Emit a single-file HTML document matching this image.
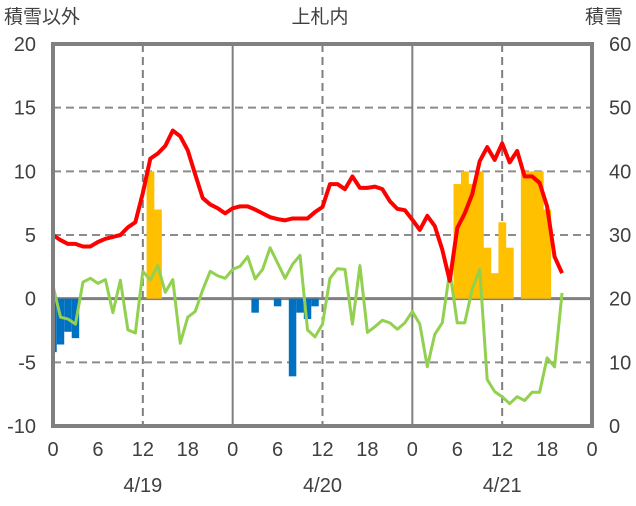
<!DOCTYPE html>
<html><head><meta charset="utf-8"><style>
body{margin:0;background:#fff;}
svg text{font-family:"Liberation Sans","Noto Sans CJK JP",sans-serif;fill:#404040;}
</style></head><body>
<svg id="chart" width="636" height="501" viewBox="0 0 636 501" xmlns="http://www.w3.org/2000/svg">
<text x="4" y="23" font-size="19">積雪以外</text>
<text x="320" y="23" font-size="19" text-anchor="middle">上札内</text>
<text x="585" y="23" font-size="19">積雪</text>
<g id="grid"></g>
<g id="bars"></g>
<g id="lines"></g>
<g id="axes"></g>
</svg>
<script>
const hours = [];
for (let i = 0; i <= 68; i++) hours.push(i);
const temp = [5.0,4.6,4.3,4.3,4.1,4.1,4.45,4.7,4.85,5.0,5.6,6.0,8.3,11.0,11.4,12.0,13.2,12.75,11.65,9.75,7.9,7.4,7.1,6.7,
7.1,7.25,7.25,7.0,6.7,6.4,6.25,6.15,6.3,6.3,6.3,6.8,7.2,9.0,9.0,8.6,9.6,8.7,8.7,8.8,8.6,7.65,7.05,6.95,
6.2,5.4,6.5,5.7,3.85,1.4,5.55,6.7,8.2,10.8,11.9,10.9,12.2,10.7,11.6,9.6,9.6,9.1,7.25,3.3,2.0];
const green = [1.0,-1.45,-1.6,-2.0,1.3,1.6,1.2,1.5,-1.1,1.45,-2.45,-2.7,2.15,1.45,2.6,0.5,1.5,-3.5,-1.45,-1.0,0.7,2.15,1.8,1.6,
2.3,2.55,3.3,1.55,2.3,4.0,2.8,1.6,2.7,3.4,-2.45,-3.0,-2.0,1.6,2.35,2.3,-2.0,2.6,-2.65,-2.2,-1.7,-1.9,-2.4,-1.9,
-1.0,-2.0,-5.35,-2.8,-1.9,2.15,-1.9,-1.9,0.75,2.3,-6.35,-7.3,-7.7,-8.25,-7.7,-8.0,-7.35,-7.35,-4.65,-5.35,0.45];
const snowDepth = hours.map(() => 0);
const blueHours = [0,1,2,3,27,30,32,33,34,35];
const blueValues = [-4.2,-3.6,-2.6,-3.1,-1.1,-0.6,-6.1,-1.1,-1.6,-0.6];
const orangeHours = [13,14,54,55,56,57,58,59,60,61,63,64,65,66];
const orangeValues = [10,7,9,10,9,10,4,2,6,4,10,10,10,7];
const leftTicks = [20,15,10,5,0,-5,-10];
const rightTicks = [60,50,40,30,20,10,0];
const xTickLabels = ['0','6','12','18','0','6','12','18','0','6','12','18','0'];
const dateLabels = ['4/19','4/20','4/21'];

const X0=53,X1=592,Y0=44,Y1=426;
const x = h => X0 + h*(X1-X0)/72;
const yL = v => Y1 - (v+10)*(Y1-Y0)/30;
const yR = v => Y1 - v*(Y1-Y0)/60;
const NS='http://www.w3.org/2000/svg';
function mk(parent, tag, attrs){const e=document.createElementNS(NS,tag);for(const k in attrs)e.setAttribute(k,attrs[k]);document.getElementById(parent).appendChild(e);return e;}

[15,10,5,-5].forEach(v=>{
  const e=mk('grid','line',{x1:X0,x2:X1,y1:yL(v),y2:yL(v),stroke:'#8c8c8c','stroke-width':2,'stroke-dasharray':'8,5'});
  
  
});
[12,36,60].forEach(h=>{
  const e=mk('grid','line',{x1:x(h),x2:x(h),y1:Y0,y2:Y1,stroke:'#7f7f7f','stroke-width':2,'stroke-dasharray':'8,5'});
  
  
});
[24,48].forEach(h=>{
  const e=mk('grid','line',{x1:x(h),x2:x(h),y1:Y0,y2:Y1,stroke:'#7f7f7f','stroke-width':2});
  
  
});
const bw=(X1-X0)/72;
blueHours.forEach((h,i)=>{
  const v=blueValues[i];
  const e=mk('bars','rect',{x:Math.max(X0,x(h)-bw/2),y:yL(0),width:x(h)+bw/2-Math.max(X0,x(h)-bw/2),height:yL(v)-yL(0),fill:'#0070c0'});
  
  
});
orangeHours.forEach((h,i)=>{
  const v=orangeValues[i];
  const e=mk('bars','rect',{x:x(h)-bw/2,y:yL(v),width:bw+0.3,height:yL(0)-yL(v),fill:'#ffc000'});
  
  
});
const z=mk('grid','line',{x1:X0,x2:X1,y1:yL(0),y2:yL(0),stroke:'#808080','stroke-width':3});



function poly(vals,yf,color,w,name){
  const e=mk('lines','polyline',{points:vals.map((v,i)=>x(hours[i])+','+yf(v)).join(' '),fill:'none',stroke:color,'stroke-width':w,'stroke-linejoin':'round'});
  
  
}
poly(green,yL,'#92d050',3,'green-series-line');
poly(temp,yL,'#ff0000',4,'temperature-line');

const f=mk('axes','rect',{x:X0,y:Y0,width:X1-X0,height:Y1-Y0,fill:'none',stroke:'#808080','stroke-width':4});


poly(snowDepth,yR,'#7030a0',3,'snow-depth-line');

leftTicks.forEach(v=>{
  const t=mk('axes','text',{x:36,y:yL(v)+7,'font-size':20,'text-anchor':'end'});t.textContent=v;
  
  
});
rightTicks.forEach(v=>{
  const t=mk('axes','text',{x:609,y:yR(v)+7,'font-size':20,'text-anchor':'start'});t.textContent=v;
  
  
});
xTickLabels.forEach((s,i)=>{
  const t=mk('axes','text',{x:x(i*6),y:456,'font-size':20,'text-anchor':'middle'});t.textContent=s;
  
  
});
dateLabels.forEach((s,i)=>{
  const t=mk('axes','text',{x:x(12+24*i),y:492,'font-size':20,'text-anchor':'middle'});t.textContent=s;
  
  
});
</script>
</body></html>
